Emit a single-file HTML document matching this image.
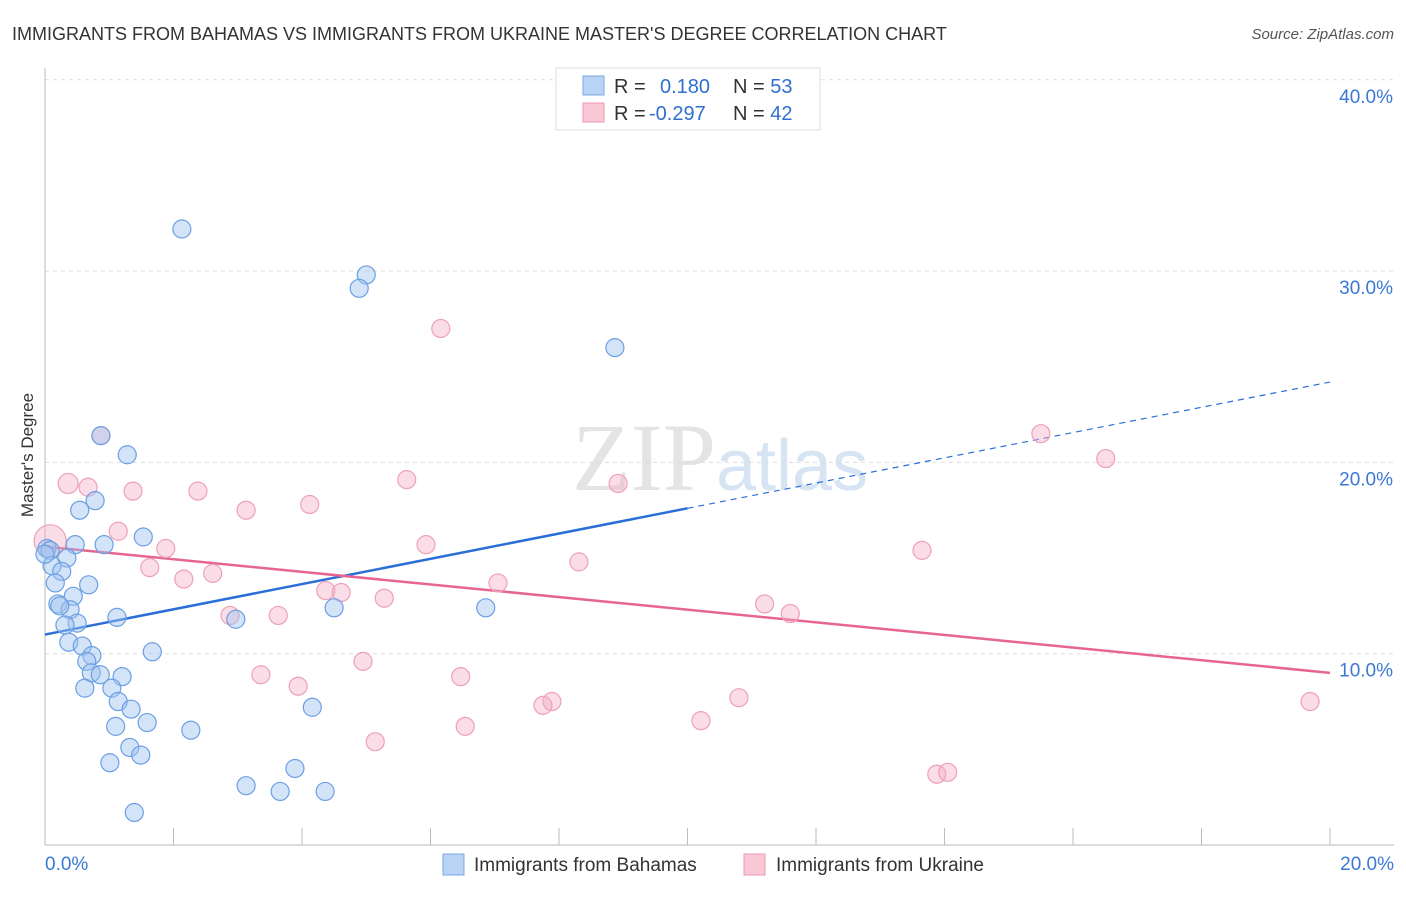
<!DOCTYPE html>
<html><head><meta charset="utf-8"><style>
body{margin:0;background:#fff;font-family:"Liberation Sans",sans-serif;}
</style></head><body>
<svg id="chart" width="1406" height="892" xmlns="http://www.w3.org/2000/svg" font-family="Liberation Sans, sans-serif">
<text x="12" y="40" font-size="18" fill="#333">IMMIGRANTS FROM BAHAMAS VS IMMIGRANTS FROM UKRAINE MASTER'S DEGREE CORRELATION CHART</text>
<text x="1394" y="39" font-size="15" fill="#555" font-style="italic" text-anchor="end">Source: ZipAtlas.com</text>
<text transform="translate(33,455) rotate(-90)" font-size="17" fill="#333" text-anchor="middle">Master's Degree</text>
<text x="720" y="490" font-size="96" fill="#e4e4e4" text-anchor="middle" font-family="Liberation Serif, serif">ZIP<tspan fill="#d6e4f4" font-family="Liberation Sans, sans-serif" font-size="72">atlas</tspan></text>
<g id="grid"></g><g id="axes"></g><g id="lines"></g><g id="points"></g>
<g>
<rect x="556" y="68" width="264" height="62" fill="#fff" stroke="#ddd"/>
<rect x="583" y="76" width="21" height="19" fill="#b9d3f5" stroke="#7aa7e4"/>
<rect x="583" y="103" width="21" height="19" fill="#f9c7d6" stroke="#ec98b3"/>
<text x="614" y="93" font-size="20" fill="#333">R = <tspan x="660" fill="#2f6fd0">0.180</tspan><tspan x="733" fill="#333">N = </tspan><tspan fill="#2f6fd0">53</tspan></text>
<text x="614" y="120" font-size="20" fill="#333">R = <tspan x="649" fill="#2f6fd0">-0.297</tspan><tspan x="733" fill="#333">N = </tspan><tspan fill="#2f6fd0">42</tspan></text>
</g>
<g>
<rect x="443" y="854" width="21" height="21" fill="#b9d3f5" stroke="#7aa7e4"/>
<text x="474" y="871" font-size="19" fill="#333">Immigrants from Bahamas</text>
<rect x="744" y="854" width="21" height="21" fill="#f9c7d6" stroke="#ec98b3"/>
<text x="776" y="871" font-size="19" fill="#333">Immigrants from Ukraine</text>
</g>
</svg>
<script>
const yTicks=[10,20,30,40];
const xTickLabels=["0.0%","20.0%"];
const bahamasX=[2.13,5.0,4.89,8.87,0.87,1.28,0.78,0.54,1.53,0.47,0.92,0.03,0.08,0.34,0.11,0.26,0.16,0.68,0.44,0.2,0.39,0.23,4.5,6.86,1.12,2.97,0.5,0.31,0.37,0.58,1.67,0.73,0.65,0.72,0.86,1.2,0.62,1.04,1.14,1.34,4.16,1.59,1.1,2.27,1.32,1.49,1.01,3.89,3.13,3.66,4.36,1.39,0.0];
const bahamasY=[32.2,29.8,29.1,26.0,21.4,20.4,18.0,17.5,16.1,15.7,15.7,15.5,15.4,15.0,14.6,14.3,13.7,13.6,13.0,12.6,12.3,12.5,12.4,12.4,11.9,11.8,11.6,11.5,10.6,10.4,10.1,9.9,9.6,9.0,8.9,8.8,8.2,8.2,7.5,7.1,7.2,6.4,6.2,6.0,5.1,4.7,4.3,4.0,3.1,2.8,2.8,1.7,15.2];
const ukraineX=[6.16,0.87,15.5,16.51,0.36,0.67,5.63,8.92,1.37,2.38,4.12,3.13,1.14,0.08,5.93,1.88,13.65,1.63,8.31,2.61,2.16,7.05,4.37,4.61,5.28,11.2,11.6,2.88,3.63,4.95,3.36,6.47,3.94,10.8,7.89,7.75,19.69,10.21,6.54,5.14,13.88,14.05];
const ukraineY=[27.0,21.4,21.5,20.2,18.9,18.7,19.1,18.9,18.5,18.5,17.8,17.5,16.4,15.9,15.7,15.5,15.4,14.5,14.8,14.2,13.9,13.7,13.3,13.2,12.9,12.6,12.1,12.0,12.0,9.6,8.9,8.8,8.3,7.7,7.5,7.3,7.5,6.5,6.2,5.4,3.7,3.8];
const ukraineR=[9,9,9,9,10,9,9,9,9,9,9,9,9,16,9,9,9,9,9,9,9,9,9,9,9,9,9,9,9,9,9,9,9,9,9,9,9,9,9,9,9,9];
const bahamasTrend=[11.0,24.2];
const ukraineTrend=[15.6,9.0];
const NS="http://www.w3.org/2000/svg";
const X=v=>45+v*64.25, Y=v=>845-v*19.13;
function mk(p,t,a){const e=document.createElementNS(NS,t);for(const k in a)e.setAttribute(k,a[k]);p.appendChild(e);return e;}
const grid=document.getElementById('grid'),axes=document.getElementById('axes'),lines=document.getElementById('lines'),pts=document.getElementById('points');
yTicks.forEach(t=>{
 const l=mk(grid,'line',{x1:45,x2:1394,y1:Y(t),y2:Y(t),stroke:'#ddd','stroke-dasharray':'4,4'});
 
 
 const tx=mk(grid,'text',{x:1393,y:Y(t)+23,'font-size':19,fill:'#3b78d6','text-anchor':'end'});
 tx.textContent=t.toFixed(1)+'%';
 
 
});
const ax=mk(axes,'line',{x1:45,x2:45,y1:68,y2:845,stroke:'#bbb'});


const bx=mk(axes,'line',{x1:45,x2:1394,y1:845,y2:845,stroke:'#bbb'});


for(let i=0;i<=10;i++){const t=mk(axes,'line',{x1:X(i*2),x2:X(i*2),y1:828,y2:845,stroke:'#bbb'});
 
 }
xTickLabels.forEach((s,i)=>{const t=mk(axes,'text',{x:i?1394:45,y:870,'font-size':19,fill:'#3b78d6','text-anchor':i?'end':'start'});t.textContent=s;
 
 });
// trend lines
const bMid=bahamasTrend[0]+(bahamasTrend[1]-bahamasTrend[0])*0.5;
const b1=mk(lines,'line',{x1:X(0),y1:Y(bahamasTrend[0]),x2:X(10),y2:Y(bMid),stroke:'#2a6fd6','stroke-width':2.5});


const b2=mk(lines,'line',{x1:X(10),y1:Y(bMid),x2:X(20),y2:Y(bahamasTrend[1]),stroke:'#2a6fd6','stroke-width':1.2,'stroke-dasharray':'6,5'});


const u1=mk(lines,'line',{x1:X(0),y1:Y(ukraineTrend[0]),x2:X(20),y2:Y(ukraineTrend[1]),stroke:'#e7668f','stroke-width':2.5});


ukraineX.forEach((x,i)=>{const c=mk(pts,'circle',{cx:X(x),cy:Y(ukraineY[i]),r:ukraineR[i],fill:'rgba(246,170,195,0.4)',stroke:'#eea0b8','stroke-width':1.2});
 
 });
bahamasX.forEach((x,i)=>{const c=mk(pts,'circle',{cx:X(x),cy:Y(bahamasY[i]),r:9,fill:'rgba(160,195,240,0.45)',stroke:'#6b9fe3','stroke-width':1.2});
 
 });
</script>
</body></html>
